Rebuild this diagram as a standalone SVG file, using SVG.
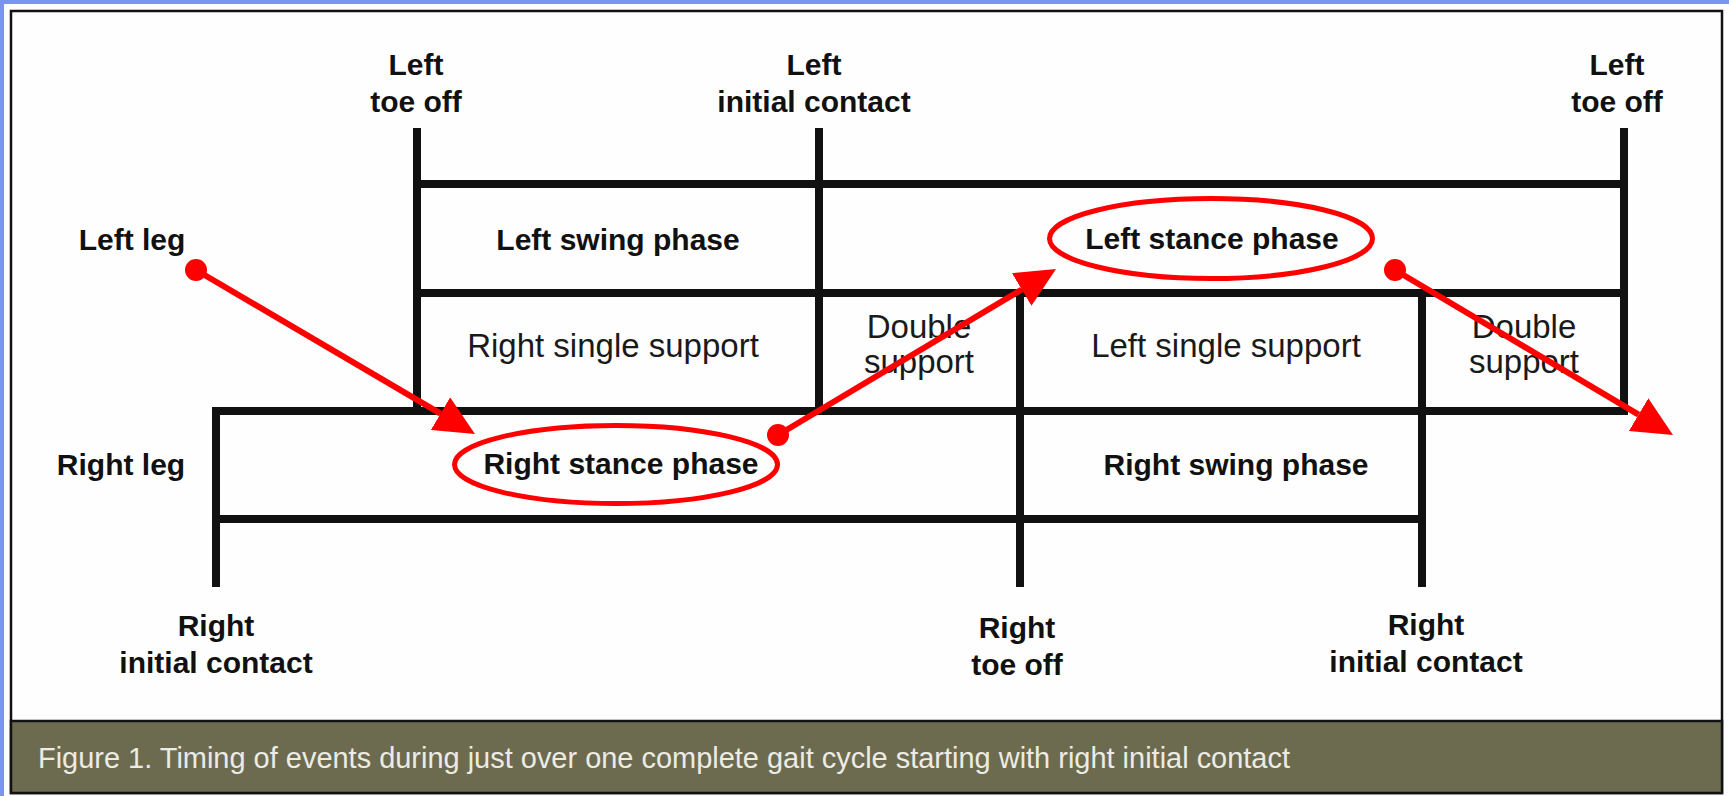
<svg xmlns="http://www.w3.org/2000/svg" width="1729" height="796" viewBox="0 0 1729 796">
<style>
.b{font-family:"Liberation Sans",Arial,sans-serif;font-weight:bold;font-size:30px;fill:#111;text-anchor:middle}
.r{font-family:"Liberation Sans",Arial,sans-serif;font-size:33px;fill:#1a1a1a;text-anchor:middle}
.grid line{stroke:#111;stroke-width:8;stroke-linecap:square}
.hl{fill:none;stroke:#f00;stroke-width:5}
.arr{stroke:#f00;stroke-width:6;fill:none;marker-start:url(#dot);marker-end:url(#head)}
.cap{font-family:"Liberation Sans",Arial,sans-serif;font-size:29px;fill:#ecece4}
</style>
<defs>
<marker id="head" markerUnits="userSpaceOnUse" viewBox="0 0 40 38" markerWidth="40" markerHeight="38" refX="0" refY="19" orient="auto">
<path d="M0,0 L40,19 L0,38 Z" fill="#f00"/>
</marker>
<marker id="dot" markerUnits="userSpaceOnUse" viewBox="0 0 24 24" markerWidth="24" markerHeight="24" refX="12" refY="12">
<circle cx="12" cy="12" r="11" fill="#f00"/>
</marker>
</defs>
<g id="frame">
<rect x="0" y="0" width="1729" height="796" fill="#7a95f0"/>
<rect x="4" y="4" width="1725" height="792" fill="#fdfdfd"/>
<rect x="11" y="11" width="1711" height="782" fill="#fefefe" stroke="#111" stroke-width="2.5"/>
<rect x="11" y="721" width="1711" height="72" fill="#6c6b50" stroke="#111" stroke-width="2.5"/>
<text class="cap" x="38" y="768" textLength="1252" lengthAdjust="spacingAndGlyphs">Figure 1. Timing of events during just over one complete gait cycle starting with right initial contact</text>
</g>
<g id="grid" class="grid">
<line x1="417" y1="132" x2="417" y2="411"/>
<line x1="819" y1="132" x2="819" y2="411"/>
<line x1="1624" y1="132" x2="1624" y2="411"/>
<line x1="216" y1="411" x2="216" y2="583"/>
<line x1="1020" y1="293" x2="1020" y2="583"/>
<line x1="1422" y1="293" x2="1422" y2="583"/>
<line x1="417" y1="184" x2="1624" y2="184"/>
<line x1="417" y1="293" x2="1624" y2="293"/>
<line x1="216" y1="411" x2="1624" y2="411"/>
<line x1="216" y1="519" x2="1422" y2="519"/>
</g>
<g id="left-toe-off-1"><text class="b" x="416" y="75">Left</text><text class="b" x="416" y="112">toe off</text></g>
<g id="left-initial-contact"><text class="b" x="814" y="75">Left</text><text class="b" x="814" y="112">initial contact</text></g>
<g id="left-toe-off-2"><text class="b" x="1617" y="75">Left</text><text class="b" x="1617" y="112">toe off</text></g>
<g id="left-leg"><text class="b" x="132" y="250">Left leg</text></g>
<g id="right-leg"><text class="b" x="121" y="475">Right leg</text></g>
<g id="left-swing-phase"><text class="b" x="618" y="250">Left swing phase</text></g>
<g id="left-stance-phase"><text class="b" x="1212" y="249">Left stance phase</text><ellipse class="hl" cx="1211" cy="238.5" rx="161.5" ry="40"/></g>
<g id="right-single-support"><text class="r" x="613" y="357">Right single support</text></g>
<g id="double-support-1"><text class="r" x="919" y="338">Double</text><text class="r" x="919" y="373">support</text></g>
<g id="left-single-support"><text class="r" x="1226" y="357">Left single support</text></g>
<g id="double-support-2"><text class="r" x="1524" y="338">Double</text><text class="r" x="1524" y="373">support</text></g>
<g id="right-stance-phase"><text class="b" x="621" y="474">Right stance phase</text><ellipse class="hl" cx="616" cy="464.5" rx="161.5" ry="39"/></g>
<g id="right-swing-phase"><text class="b" x="1236" y="475">Right swing phase</text></g>
<g id="right-initial-contact-1"><text class="b" x="216" y="636">Right</text><text class="b" x="216" y="673">initial contact</text></g>
<g id="right-toe-off"><text class="b" x="1017" y="638">Right</text><text class="b" x="1017" y="675">toe off</text></g>
<g id="right-initial-contact-2"><text class="b" x="1426" y="635">Right</text><text class="b" x="1426" y="672">initial contact</text></g>
<g id="connectors">
<line class="arr" x1="196" y1="270" x2="440.5" y2="413.7"/>
<line class="arr" x1="778" y1="435" x2="1021.7" y2="289.5"/>
<line class="arr" x1="1395" y1="270" x2="1638.6" y2="414.6"/>
</g>
</svg>
